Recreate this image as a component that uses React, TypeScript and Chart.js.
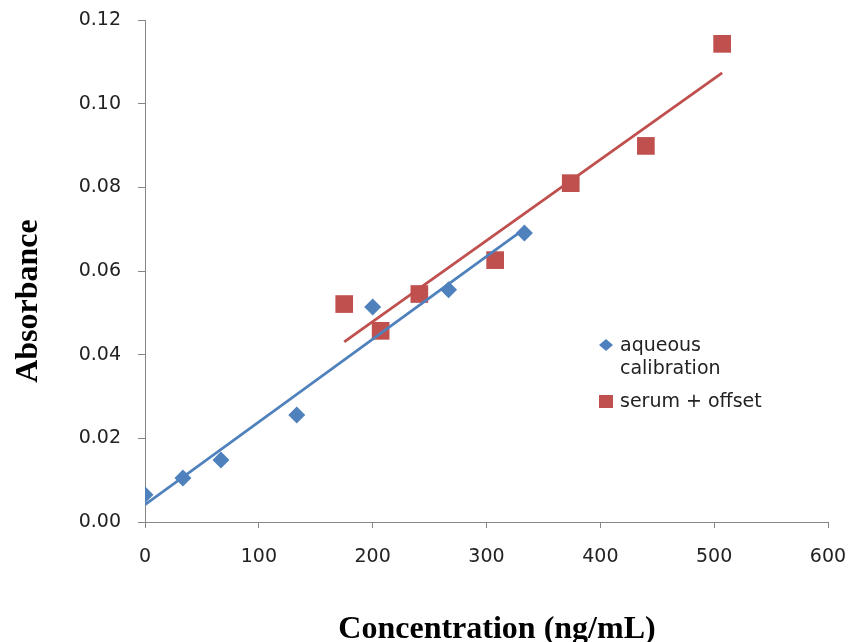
import React, { useEffect, useRef } from "react";
import { Chart, registerables } from "chart.js";

Chart.register(...registerables);

// ---- Data ----
const aqueousConc = [0, 33.3, 66.7, 133.3, 200, 266.7, 333.3];
const aqueousAbs = [0.0065, 0.0105, 0.0148, 0.0256, 0.0514, 0.0555, 0.0691];

const serumConc = [175, 207, 241, 307.6, 374, 440, 507];
const serumAbs = [0.0521, 0.0457, 0.0545, 0.0626, 0.081, 0.0899, 0.1143];

const xTicks = [0, 100, 200, 300, 400, 500, 600];
const yTicks = [0, 0.02, 0.04, 0.06, 0.08, 0.1, 0.12];

const seriesNames = ["aqueous calibration", "serum + offset"];
const xTitle = "Concentration (ng/mL)";
const yTitle = "Absorbance";

const BLUE = "#4F81BD";
const RED = "#C0504D";
const AXIS = "#868686";

function linearFit(xs: number[], ys: number[]) {
  const n = xs.length;
  const mx = xs.reduce((a, b) => a + b, 0) / n;
  const my = ys.reduce((a, b) => a + b, 0) / n;
  let sxy = 0;
  let sxx = 0;
  for (let i = 0; i < n; i++) {
    sxy += (xs[i] - mx) * (ys[i] - my);
    sxx += (xs[i] - mx) * (xs[i] - mx);
  }
  const slope = sxy / sxx;
  const intercept = my - slope * mx;
  const x0 = Math.min(...xs);
  const x1 = Math.max(...xs);
  return [
    { x: x0, y: intercept + slope * x0 },
    { x: x1, y: intercept + slope * x1 },
  ];
}

const toPoints = (xs: number[], ys: number[]) => xs.map((x, i) => ({ x, y: ys[i] }));

const customLabels = {
  id: "customLabels",
  afterDraw(chart: any) {
    const ctx = chart.ctx;
    ctx.save();
    // Axis titles
    ctx.fillStyle = "#000";
    ctx.font = "bold 32px 'Liberation Serif', 'Times New Roman', serif";
    ctx.textAlign = "center";
    ctx.textBaseline = "alphabetic";
    ctx.fillText(xTitle, 497, 638);
    ctx.save();
    ctx.translate(37, 301);
    ctx.rotate(-Math.PI / 2);
    ctx.fillText(yTitle, 0, 0);
    ctx.restore();

    // Legend
    ctx.font = "19px 'DejaVu Sans', sans-serif";
    ctx.textAlign = "left";
    ctx.textBaseline = "middle";
    // diamond
    ctx.fillStyle = BLUE;
    ctx.beginPath();
    ctx.moveTo(606, 339);
    ctx.lineTo(613, 345);
    ctx.lineTo(606, 351);
    ctx.lineTo(599, 345);
    ctx.closePath();
    ctx.fill();
    ctx.fillStyle = "#222";
    const words = seriesNames[0].split(" ");
    ctx.fillText(words[0], 620, 346);
    ctx.fillText(words[1], 620, 369);
    // square
    ctx.fillStyle = RED;
    ctx.fillRect(599, 395, 14, 13);
    ctx.fillStyle = "#222";
    ctx.fillText(seriesNames[1], 620, 402);
    ctx.restore();
  },
};

export default function App() {
  const canvasRef = useRef<HTMLCanvasElement | null>(null);

  useEffect(() => {
    if (!canvasRef.current) return;
    const chart = new Chart(canvasRef.current, {
      type: "scatter",
      data: {
        datasets: [
          {
            label: "aqueous trend",
            type: "line",
            data: linearFit(aqueousConc, aqueousAbs),
            borderColor: BLUE,
            borderWidth: 2.8,
            pointRadius: 0,
            fill: false,
          },
          {
            label: "serum trend",
            type: "line",
            data: linearFit(serumConc, serumAbs),
            borderColor: RED,
            borderWidth: 2.8,
            pointRadius: 0,
            fill: false,
          },
          {
            label: seriesNames[0],
            data: toPoints(aqueousConc, aqueousAbs),
            backgroundColor: BLUE,
            borderColor: BLUE,
            borderWidth: 0,
            pointStyle: "rectRot",
            pointRadius: 8.5,
          },
          {
            label: seriesNames[1],
            data: toPoints(serumConc, serumAbs),
            backgroundColor: RED,
            borderColor: RED,
            borderWidth: 0,
            pointStyle: "rect",
            pointRadius: 12.5,
          },
        ],
      },
      options: {
        responsive: true,
        maintainAspectRatio: false,
        animation: false,
        layout: { padding: { top: 20, right: 25, left: 0, bottom: 0 } },
        plugins: {
          legend: { display: false },
          tooltip: { enabled: false },
          title: { display: false },
        },
        scales: {
          x: {
            type: "linear",
            min: 0,
            max: 600,
            afterBuildTicks: (scale: any) => {
              scale.ticks = xTicks.map((v) => ({ value: v }));
            },
            afterFit: (scale: any) => {
              scale.height = 120;
              scale.paddingLeft = 0;
              scale.paddingRight = 0;
            },
            ticks: {
              color: "#222",
              font: { family: "'DejaVu Sans', sans-serif", size: 19 },
              padding: 18,
              maxRotation: 0,
              callback: (v: any) => String(v),
            },
            grid: {
              display: true,
              drawOnChartArea: false,
              drawTicks: true,
              tickLength: 6,
              color: AXIS,
            },
            border: { display: true, color: AXIS, width: 1 },
          },
          y: {
            type: "linear",
            min: 0,
            max: 0.12,
            afterBuildTicks: (scale: any) => {
              scale.ticks = yTicks.map((v) => ({ value: v }));
            },
            afterFit: (scale: any) => {
              scale.width = 145;
              scale.paddingTop = 0;
              scale.paddingBottom = 0;
            },
            ticks: {
              color: "#222",
              font: { family: "'DejaVu Sans', sans-serif", size: 19 },
              padding: 17,
              callback: (v: any) => Number(v).toFixed(2),
            },
            grid: {
              display: true,
              drawOnChartArea: false,
              drawTicks: true,
              tickLength: 7,
              color: AXIS,
            },
            border: { display: true, color: AXIS, width: 1 },
          },
        },
      },
      plugins: [customLabels],
    });
    return () => chart.destroy();
  }, []);

  return (
    <div style={{ position: "absolute", left: 0, top: 0, width: 853, height: 642, background: "#fff" }}>
      <canvas ref={canvasRef} />
    </div>
  );
}
